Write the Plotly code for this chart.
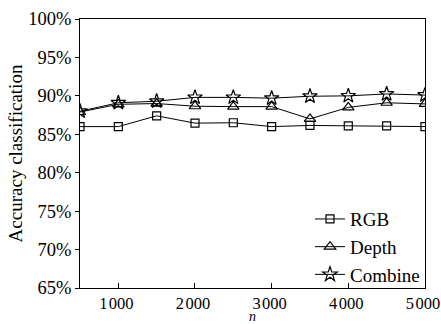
import plotly.graph_objects as go

n = [500, 1000, 1500, 2000, 2500, 3000, 3500, 4000, 4500, 5000]
rgb = [86.0, 86.0, 87.4, 86.45, 86.5, 86.0, 86.15, 86.1, 86.1, 86.0]
depth = [87.9, 88.9, 89.0, 88.65, 88.6, 88.6, 87.0, 88.5, 89.1, 88.95]
combine = [88.0, 89.1, 89.3, 89.8, 89.8, 89.7, 89.95, 90.0, 90.25, 90.1]

xtick_vals = [1000, 2000, 3000, 4000, 5000]
xtick_text = ["1\u200a000", "2\u200a000", "3\u200a000", "4\u200a000", "5\u200a000"]
ytick_vals = [65, 70, 75, 80, 85, 90, 95, 100]
ytick_text = [f"{v}%" for v in ytick_vals]

FONT = "Liberation Serif"

fig = go.Figure()
for name, ys, sym, sz in [("RGB", rgb, "square-open", 8), ("Depth", depth, "triangle-up-open", 10), ("Combine", combine, "star-open", 11)]:
    fig.add_trace(go.Scatter(
        x=n, y=ys, name=name, mode="lines+markers",
        line=dict(color="black", width=1),
        marker=dict(symbol=sym, size=sz, color="black", line=dict(width=1.2, color="black")),
    ))

fig.update_layout(
    width=441, height=324,
    margin=dict(l=80, r=16, t=19, b=36),
    paper_bgcolor="white", plot_bgcolor="white",
    font=dict(family=FONT, size=17, color="black"),
    showlegend=True,
    legend=dict(x=1.0, y=0.152, xanchor="right", yanchor="middle",
                bgcolor="rgba(0,0,0,0)", font=dict(size=19, family=FONT),
                tracegroupgap=0, itemwidth=30),
    annotations=[dict(text="<i>n</i>", xref="paper", yref="paper", x=0.5, y=-0.14,
                      xanchor="center", yanchor="bottom", showarrow=False,
                      font=dict(size=14, family=FONT))],
)
fig.update_xaxes(
    range=[500, 5000.5], tickvals=xtick_vals, ticktext=xtick_text,
    ticks="inside", ticklen=5, tickcolor="black", showgrid=False, zeroline=False,
    showline=True, linecolor="black", linewidth=1, mirror=True,
    tickfont=dict(size=16.5, family=FONT), automargin=False, ticklabeloverflow="allow",
    ticklabelshift=-2,
)
fig.update_yaxes(
    range=[65, 100], tickvals=ytick_vals, ticktext=ytick_text,
    ticks="outside", ticklen=4, tickcolor="black", showgrid=False, zeroline=False,
    showline=True, linecolor="black", linewidth=1, mirror=True,
    tickfont=dict(size=18.5, family=FONT), automargin=False,
    title=dict(text="Accuracy classification", font=dict(size=19, family=FONT), standoff=0),
)

fig.write_html("out.html", config={"displayModeBar": False},
               post_script="document.body.style.margin='0';document.body.style.overflow='hidden';")
